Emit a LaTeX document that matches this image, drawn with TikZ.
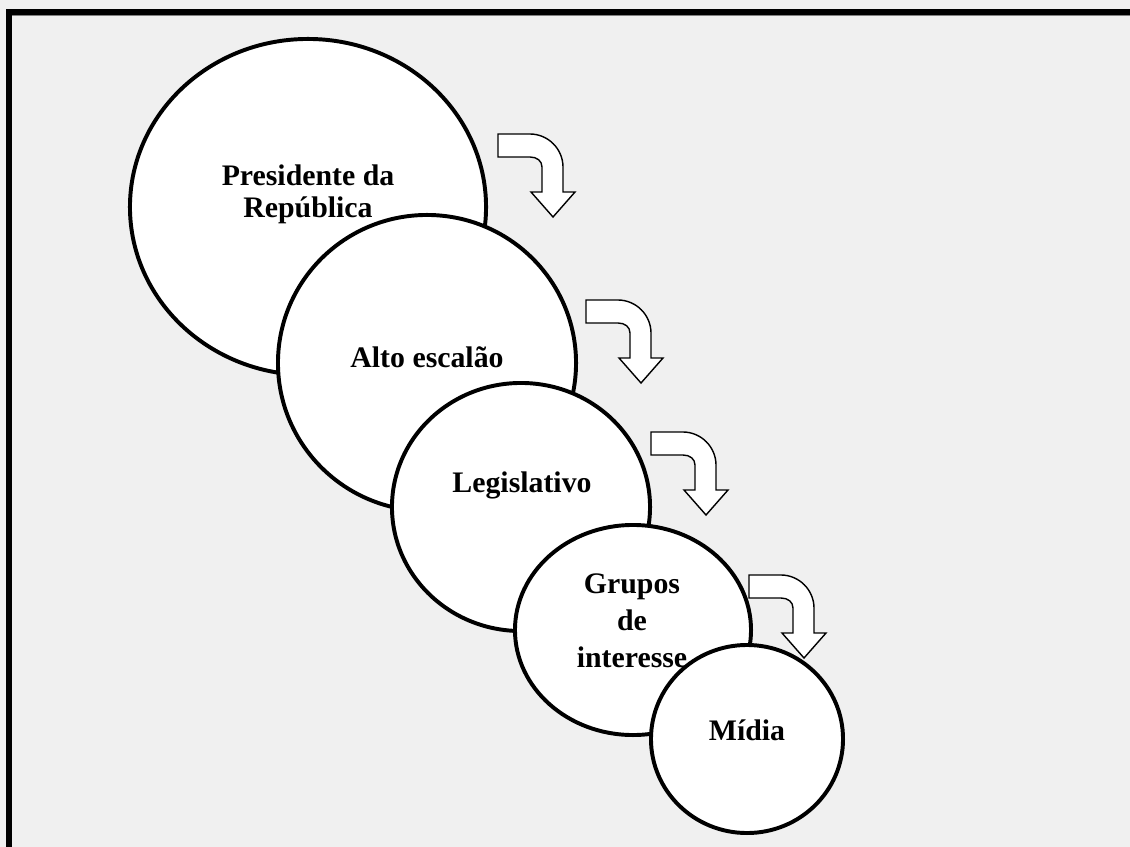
\documentclass[tikz,border=0pt]{standalone}
\usepackage{fontspec}
\setmainfont{Liberation Serif}
\usetikzlibrary{shapes.geometric}
\definecolor{bggray}{RGB}{240,240,240}

\begin{document}
\begin{tikzpicture}[x=0.025cm, y=-0.025cm,
  circ/.style={draw=black, fill=white, ellipse, line width=2.8pt, inner sep=0pt},
  lbl/.style={font=\fontsize{21.2}{23.4}\selectfont\bfseries, align=center, anchor=base},
  bent/.style={draw=black, fill=white, line width=1pt, line join=miter},
]
  \useasboundingbox (0,0) rectangle (1130,847);
  \fill[bggray] (0,0) rectangle (1130,847);
  \fill[black] (6,9) rectangle (1130,15);
  \fill[black] (6,9) rectangle (12,847);
  \draw[gray, line width=0.5pt] (12,15.6) -- (1130,15.6);

  % chain of circles, each one on top of the previous
  \node[circ, minimum width=8.9cm, minimum height=8.4cm] (pres) at (308,207) {};
  \node[lbl] (tpres) at (308,218) {Presidente da\\República};
  \node[circ, minimum width=7.45cm, minimum height=7.4cm] (alto) at (427,363) {};
  \node[lbl] (talto) at (427,367) {Alto escalão};
  \node[circ, minimum width=6.45cm, minimum height=6.2cm] (leg) at (521,507) {};
  \node[lbl] (tleg) at (522,492) {Legislativo};
  \node[circ, minimum width=5.9cm, minimum height=5.25cm] (grp) at (633,630) {};
  \node[lbl, font=\fontsize{21.2}{26}\selectfont\bfseries] (tgrp) at (632,667) {Grupos\\de\\interesse};
  \node[circ, minimum width=4.8cm, minimum height=4.7cm] (mid) at (747,739) {};
  \node[lbl] (tmid) at (747,740) {Mídia};

  % bent arrows
  \foreach \ax/\ay in {498/134, 586/300, 651/432, 749/575}
    \draw[bent, shift={(\ax,\ay)}] (0,0) -- (32,0)
      .. controls (50,0) and (65,15) .. (65,33) -- (65,58) -- (77,58) -- (55,83)
      -- (33,58) -- (44,58) -- (44,33) .. controls (44,27) and (39,23) .. (32,23)
      -- (0,23) -- cycle;
\end{tikzpicture}
\end{document}
